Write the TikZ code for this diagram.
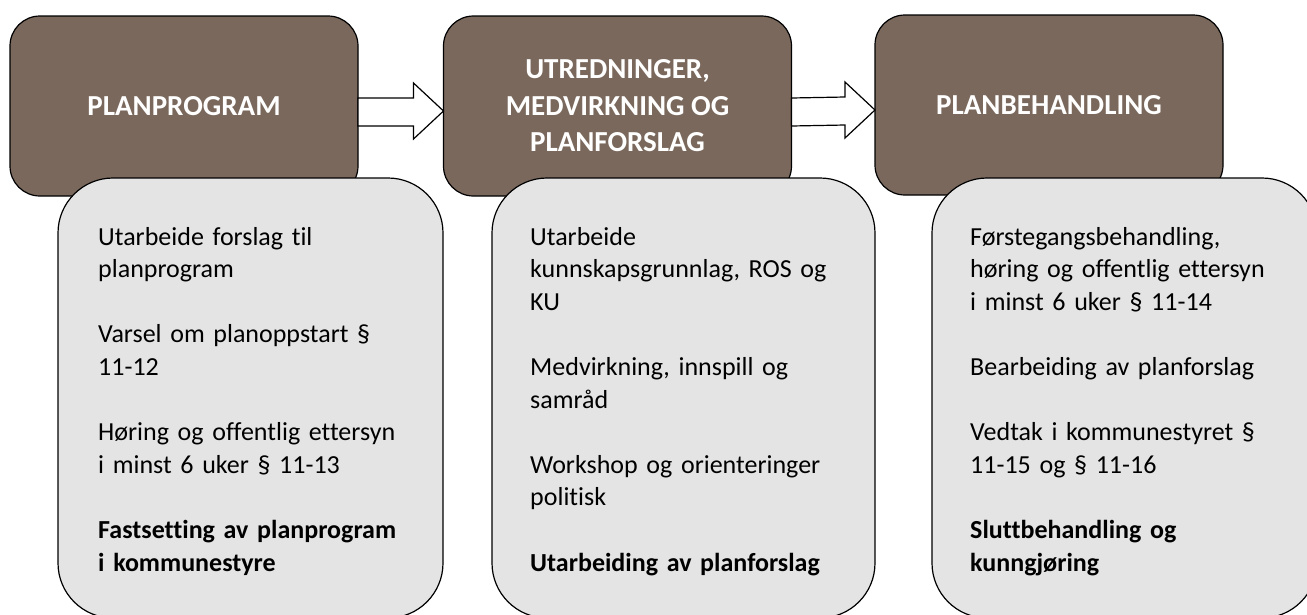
\documentclass[tikz,border=0pt]{standalone}
\usepackage{fontspec}
\setmainfont{Carlito}[Ligatures=NoCommon]
\usetikzlibrary{calc}
\definecolor{phasebrown}{HTML}{7A685C}
\definecolor{taskgrey}{HTML}{E4E4E4}

\begin{document}
\begin{tikzpicture}[x=1pt, y=-1pt,
    phase/.style ={draw, line width=1.2pt, fill=phasebrown, rounded corners=30pt,
      minimum width=348pt, minimum height=180pt, outer sep=0pt, inner sep=0pt,
      text=white, align=center, font=\bfseries\fontsize{29}{36.5}\selectfont},
    tasks/.style ={draw, line width=1.2pt, fill=taskgrey, rounded corners=55pt,
      minimum width=385pt, minimum height=440pt, outer sep=0pt},
    tasktext/.style ={anchor=base west, inner sep=0pt, text width=320pt,
      align=left, font=\fontsize{26}{32.6}\selectfont},
    flow/.style ={draw, line width=1.2pt, fill=white, to path={
      ($(\tikztostart)+(0,-8)$) -- ($(\tikztotarget)+(-30,-8)$)
      -- ($(\tikztotarget)+(-30,-23)$) -- ($(\tikztotarget)+(0,5)$)
      -- ($(\tikztotarget)+(-30,33)$) -- ($(\tikztotarget)+(-30,20)$)
      -- ($(\tikztostart)+(0,20)$) -- cycle}}]
   \clip (0,0) rectangle (1307,614);

   \node[phase] (plan)   at (184,106)   {PLANPROGRAM};
   \node[phase] (utred)  at (617.5,106) {UTREDNINGER,\\MEDVIRKNING OG\\PLANFORSLAG};
   \node[phase] (behand) at (1049,105)  {PLANBEHANDLING};

   \draw[flow] (plan.east) to (utred.west);
   \draw[flow] (utred.east) to (behand.west);

   \node[tasks] (plantasks)   at (250.5,398)  {};
   \node[tasks, minimum width=383pt] (utredtasks) at (683.5,398) {};
   \node[tasks] (behandtasks) at (1124.5,398) {};

   \node[tasktext] (plantext) at (98,245) {Utarbeide forslag til\\planprogram\\[\baselineskip]
     Varsel om planoppstart §\\11-12\\[\baselineskip]
     Høring og offentlig ettersyn\\i minst 6 uker § 11-13\\[\baselineskip]
     {\bfseries Fastsetting av planprogram}\\{\bfseries i kommunestyre}};
   \node[tasktext] (utredtext) at (530,245) {Utarbeide\\kunnskapsgrunnlag, ROS og\\KU\\[\baselineskip]
     Medvirkning, innspill og\\samråd\\[\baselineskip]
     Workshop og orienteringer\\politisk\\[\baselineskip]
     {\bfseries Utarbeiding av planforslag}};
   \node[tasktext] (behandtext) at (970,245) {Førstegangsbehandling,\\høring og offentlig ettersyn\\i minst 6 uker § 11-14\\[\baselineskip]
     Bearbeiding av planforslag\\[\baselineskip]
     Vedtak i kommunestyret §\\11-15 og § 11-16\\[\baselineskip]
     {\bfseries Sluttbehandling og}\\{\bfseries kunngjøring}};

 \end{tikzpicture}
\end{document}
